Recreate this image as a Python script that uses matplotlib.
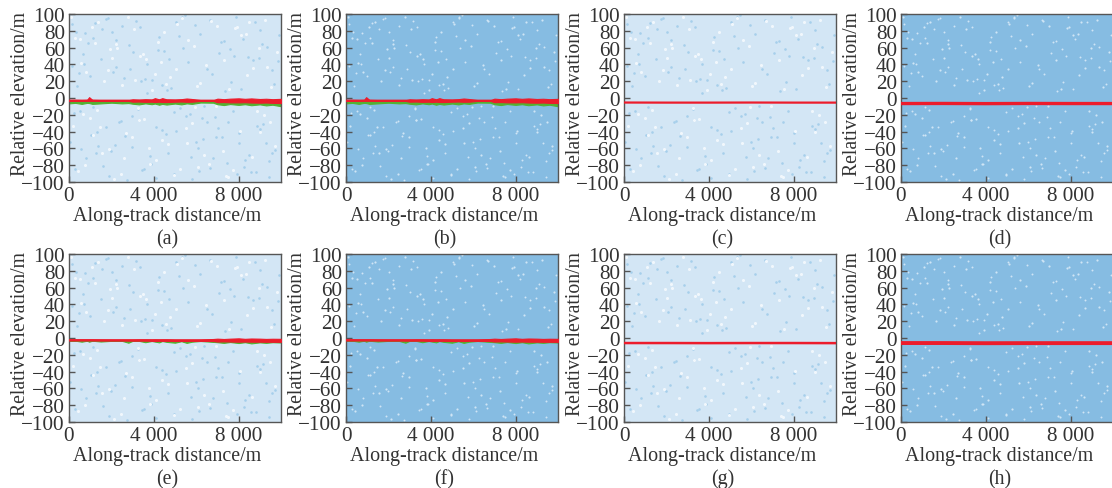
"""Eight panels of photon elevation vs along-track distance."""
import matplotlib
matplotlib.use("Agg")
import matplotlib.pyplot as plt

plt.rcParams["font.family"] = ["Liberation Serif", "DejaVu Serif"]
plt.rcParams["axes.unicode_minus"] = True

PANEL_LABELS = ["(a)", "(b)", "(c)", "(d)", "(e)", "(f)", "(g)", "(h)"]
X_TICKS = [0, 4000, 8000]
X_TICK_LABELS = ["0", "4 000", "8 000"]
Y_TICKS = [-100, -80, -60, -40, -20, 0, 20, 40, 60, 80, 100]

# along-track knots for the wide signal bands (a, b, e, f)
BAND_X = [0, 300, 600, 850, 950, 1100, 1500, 2000, 2500, 2800, 3000, 3300, 3600, 3900, 4050, 4250, 4400,
          4600, 5000, 5300, 5550, 5800, 6200, 6800, 7000, 7300, 7600, 8000, 8300, 8600, 9000, 9300, 9600, 10000]

# row 1, panels a/b
LINE_AB = [-3, -3, -3, -3, -3, -3, -3, -3, -3, -3, -3, -3, -3, -3, -3, -3, -3,
           -3, -3, -3, -3, -3, -3, -3, -3.2, -3.2, -3.2, -3.2, -3.4, -3.4, -3.6, -3.7, -3.8, -3.8]
RED_TOP_AB = [-2.4, -2.2, -2.4, -2.2, 1, -2.2, -2.5, -2.6, -2.7, -2.7, -1.6, -2, -1.5, -1.8, -0.2, -1.6, -0.2,
              -1.6, -1.8, -1.4, -0.6, -1.2, -2.5, -2.7, -0.8, -1.4, -0.8, -0.4, -1, -0.5, -1.2, -0.9, -1.4, -1]
RED_BOT_AB = [-3.5, -3.5, -3.5, -3.4, -3.4, -3.4, -3.4, -3.3, -3.3, -3.4, -4.4, -4.2, -4.6, -4.4, -4.8, -4.4, -4.8,
              -4.8, -4.4, -4.2, -4.5, -4.4, -3.4, -3.4, -5, -4.8, -5.2, -5.2, -5, -5.4, -5.6, -5.4, -5.8, -6]
GREEN_BOT_AB = [-6.4, -5.8, -7, -5.8, -6, -7, -6.4, -5.6, -6.4, -6, -6.8, -7.6, -6.4, -7.4, -6.6, -8, -7,
                -7.8, -6.6, -7.6, -6.4, -7, -5.4, -5.6, -7.4, -8.4, -7.2, -8.2, -7.4, -8.6, -7.6, -8.8, -8, -9.8]

# row 2, panels e/f
LINE_EF = [-2.4, -2.4, -2.4, -2.4, -2.4, -2.4, -2.5, -2.5, -2.5, -2.5, -2.5, -2.5, -2.6, -2.6, -2.6, -2.6, -2.6,
           -2.6, -2.7, -2.7, -2.7, -2.7, -2.8, -2.8, -3, -3, -3, -3, -3, -3, -3.1, -3.1, -3.1, -3.2]
RED_TOP_EF = [-1.8, -1.8, -1.8, -1.8, -1.8, -1.8, -1.8, -1.9, -1.9, -1.9, -1.9, -1.7, -1.6, -1.7, -1.6, -1.7, -1.6,
              -1.6, -1.8, -1.8, -1.8, -1.8, -1.7, -1.2, -0.8, -1.2, -0.8, -0.4, -1, -0.6, -0.8, -1.1, -0.9, -1]
RED_BOT_EF = [-3, -3, -3, -3, -3, -3, -3.1, -3.1, -3.1, -3.2, -3.2, -3.2, -3.2, -3.4, -3.6, -3.4, -3.4,
              -3.4, -3.6, -3.5, -3.6, -3.4, -3.4, -3.6, -4.2, -4, -4.2, -4.4, -4.2, -4.4, -4.4, -4.5, -4.5, -4.6]
GREEN_BOT_EF = [-3.2, -3.2, -4.4, -3.2, -4.4, -3.2, -4.2, -3.4, -3.4, -5.6, -3.4, -3.4, -5, -3.6, -4.2, -5.2, -3.6,
                -4.6, -5.6, -3.8, -5.8, -4.4, -3.6, -4.6, -5, -5.8, -4.8, -6, -5, -6.4, -5.2, -5.8, -5, -5.4]

# thin ground lines in c, d, g, h
THIN_X = [0, 2000, 4000, 6000, 8000, 10000]
LINE_C = [-5.4, -5.5, -5.5, -5.4, -5.5, -5.5]
LINE_D = [-6.6, -6.5, -6.7, -6.5, -6.6, -6.6]
LINE_G = [-6, -6, -6.1, -6, -6, -6.1]
LINE_H = [-6, -6, -6.2, -6.1, -6.1, -6.1]

# hand-placed specks of the noise texture (estimates, not single photons)
SPECK_X = [120, 640, 1150, 1730, 2240, 2810, 3350, 3920, 4480, 5060, 5610, 6170, 6730, 7290, 7860, 8420,
           8990, 9560, 380, 910, 1490, 2050, 2580, 3140, 3700, 4260, 4830, 5390, 5950, 6510, 7070, 7640,
           8200, 8770, 9330, 9850, 230, 780, 1320, 1880, 2430, 2970, 3520, 4090, 4650, 5220, 5780, 6340,
           6900, 7460, 8030, 8590, 9150, 9710, 510, 1040, 1610, 2160, 2720, 3280, 3830, 4390, 4960, 5520,
           6080, 6630, 7200, 7750, 8310, 8880, 9440, 60, 1260, 2340, 3450, 4570, 5690, 6800, 7920, 9030,
           4710, 1980, 8130, 320, 6490, 2870, 9420, 5340, 1120, 7610, 3590, 8840, 690, 5980, 2210, 7040,
           4120, 9670, 1570, 6260, 3010, 8510, 450, 5170, 2630, 7380, 3860, 9120, 1390, 6670, 4930, 140,
           8030, 2490, 5750, 1010, 7780, 3240, 9910, 6120, 4410, 1760, 8660, 580, 5490, 2950, 7150, 3680,
           9280, 1210, 6360, 4220, 8250, 2060, 5040, 760, 7510, 3400, 9590, 1860, 6940, 4600, 280, 8970]
SPECK_Y = [88, 52, 71, 94, 37, 63, 84, 22, 56, 91, 43, 76, 28, 68, 97, 49,
           81, 33, 14, 66, 46, 79, 24, 92, 40, 73, 12, 59, 87, 35, 54, 19,
           70, 90, 61, 44, -18, -72, -41, -93, -27, -58, -84, -35, -66, -12, -96, -49, -23,
           -77, -53, -88, -31, -62, -15, -44, -81, -56, -98, -26, -69, -38, -90, -21, -60, -83,
           -47, -16, -74, -33, -94, -52, -65, -29, -86, -43, -19, -71, -91, -37,
           47, -63, 11, 78, -29, 34, -75, 96, -11, 58, 23, -88, 41, -52, 69, -36,
           -95, 17, 82, -24, 55, -68, 30, 74, -45, 8, -79, 64, -57, 93, -17, 38,
           -42, 86, -70, 26, 50, -13, 75, -87, 15, -34, 45, -61, 99, -22, 67, 6,
           -54, 89, -9, 57, -82, 31, -39, 77, -28, 20, -66, 95, -47, 10, -85, 48]
WHITE_X = [300, 820, 1390, 1950, 2520, 3080, 3630, 4200, 4760, 5330, 5880, 6440, 7000, 7570, 8130, 8700,
           9260, 9800, 560, 1100, 1660, 2230, 2790, 3350, 3910, 4480, 5040, 5600, 6170, 6720, 7290, 7850,
           8410, 8980, 9540, 180, 740, 1300, 1870, 2430, 2990, 3550, 4110, 4680, 5240, 5800, 6360, 6930,
           7490, 8050, 8620, 9180, 9740, 440, 1000, 1570, 2130, 2700, 3260, 3820, 4380, 4950, 5510, 6070,
           7260, 1840, 5110, 9030, 3470, 670, 8330, 2580, 6030, 4340, 9470, 1230, 7720, 3120, 5560, 90,
           8860, 2280, 6610, 4040, 1480, 7920, 3750, 9330, 540, 5920, 2040, 7410, 4570, 1110, 8480, 3300]
WHITE_Y = [72, 31, 90, 58, 16, 82, 47, 67, 25, 95, 62, 39, 86, 11, 75, 36,
           93, 55, 42, 85, 20, 64, 97, 50, 9, 78, 34, 69, 18, 92, 45, 83,
           27, 60, 13, -33, -80, -14, -61, -90, -46, -25, -74, -55, -85, -30, -68, -10,
           -94, -39, -70, -20, -57, -87, -24, -65, -97, -42, -12, -78, -50, -92, -36, -82,
           -63, 33, 88, -41, 52, -19, 76, -71, 14, 43, -28, 65, -86, 22, -53, 96,
           -16, 59, -78, 29, -35, 84, -60, 37, 70, -11, 48, -93, 17, -44, 91, -26]

NOISE_LIGHT_BG = "#d3e6f5"
NOISE_DENSE_BG = "#86bce2"
SPECK_BLUE = "#a6cfeb"
SPECK_PALE = "#cfe5f5"
RED = "#ec1c2c"
GREEN = "#55b031"
SPINE = "#555555"
TEXT = "#333333"

FIG_W, FIG_H = 1112, 489
LEFTS = [69, 346, 624, 901]
TOPS = [15, 255]
AX_W, AX_H = 212, 168


def setup_axes(fig, left, top, label, dense):
    ax = fig.add_axes([left / FIG_W, 1 - (top + AX_H) / FIG_H, AX_W / FIG_W, AX_H / FIG_H])
    ax.set_xlim(0, 10000)
    ax.set_ylim(-100, 100)
    ax.set_xticks(X_TICKS, X_TICK_LABELS)
    ax.set_yticks(Y_TICKS)
    ax.tick_params(direction="in", length=4, width=1, color=SPINE, labelsize=15.2,
                   labelcolor=TEXT, pad=3)
    # labels and captions sit a little left of the panel centre in the source
    ax.set_xlabel("Along-track distance/m", fontsize=14.4, color=TEXT)
    ax.xaxis.set_label_coords(0.5 - 7.5 / AX_W, -24.5 / AX_H, transform=ax.transAxes)
    ax.set_ylabel("Relative elevation/m", fontsize=14.2, color=TEXT, va="center")
    ax.yaxis.set_label_coords(-48.5 / AX_W, 0.527, transform=ax.transAxes)
    for s in ax.spines.values():
        s.set_color(SPINE)
        s.set_linewidth(1)
    ax.annotate(label, (0.5 - 7.5 / AX_W, 0), xycoords="axes fraction", xytext=(0, -56.5),
                textcoords="offset pixels", ha="center", va="center",
                fontsize=14.4, color=TEXT)
    ax.set_facecolor(NOISE_DENSE_BG if dense else NOISE_LIGHT_BG)
    if dense:
        ax.scatter(WHITE_X, WHITE_Y, s=2.5, color=SPECK_PALE, linewidths=0, zorder=1)
        ax.scatter(SPECK_X, SPECK_Y, s=2, color=SPECK_PALE, linewidths=0, zorder=1)
    else:
        ax.scatter(SPECK_X, SPECK_Y, s=3.5, color=SPECK_BLUE, linewidths=0, zorder=1)
        ax.scatter(WHITE_X, WHITE_Y, s=5, color="#f1f7fc", linewidths=0, zorder=1)
    return ax


def draw_band(ax, line, top, bot, green_bot):
    ax.fill_between(BAND_X, green_bot, bot, color=GREEN, linewidth=0.8, zorder=2)
    ax.fill_between(BAND_X, bot, top, color=RED, linewidth=0.8, zorder=3)
    ax.plot(BAND_X, line, color=RED, lw=1.3, zorder=4)


def main():
    fig = plt.figure(figsize=(FIG_W / 100, FIG_H / 100), dpi=100)
    thin = {2: (LINE_C, 1.6), 3: (LINE_D, 2.4), 6: (LINE_G, 1.8), 7: (LINE_H, 2.8)}
    for i, label in enumerate(PANEL_LABELS):
        left = LEFTS[i % 4]
        top = TOPS[i // 4]
        ax = setup_axes(fig, left, top, label, dense=i % 2 == 1)
        if i in (0, 1):
            draw_band(ax, LINE_AB, RED_TOP_AB, RED_BOT_AB, GREEN_BOT_AB)
        elif i in (4, 5):
            draw_band(ax, LINE_EF, RED_TOP_EF, RED_BOT_EF, GREEN_BOT_EF)
        else:
            vals, lw = thin[i]
            ax.plot(THIN_X, vals, color=RED, lw=lw, zorder=4)
    fig.savefig("out.png", dpi=100, facecolor="white")
    plt.close(fig)


if __name__ == "__main__":
    main()
